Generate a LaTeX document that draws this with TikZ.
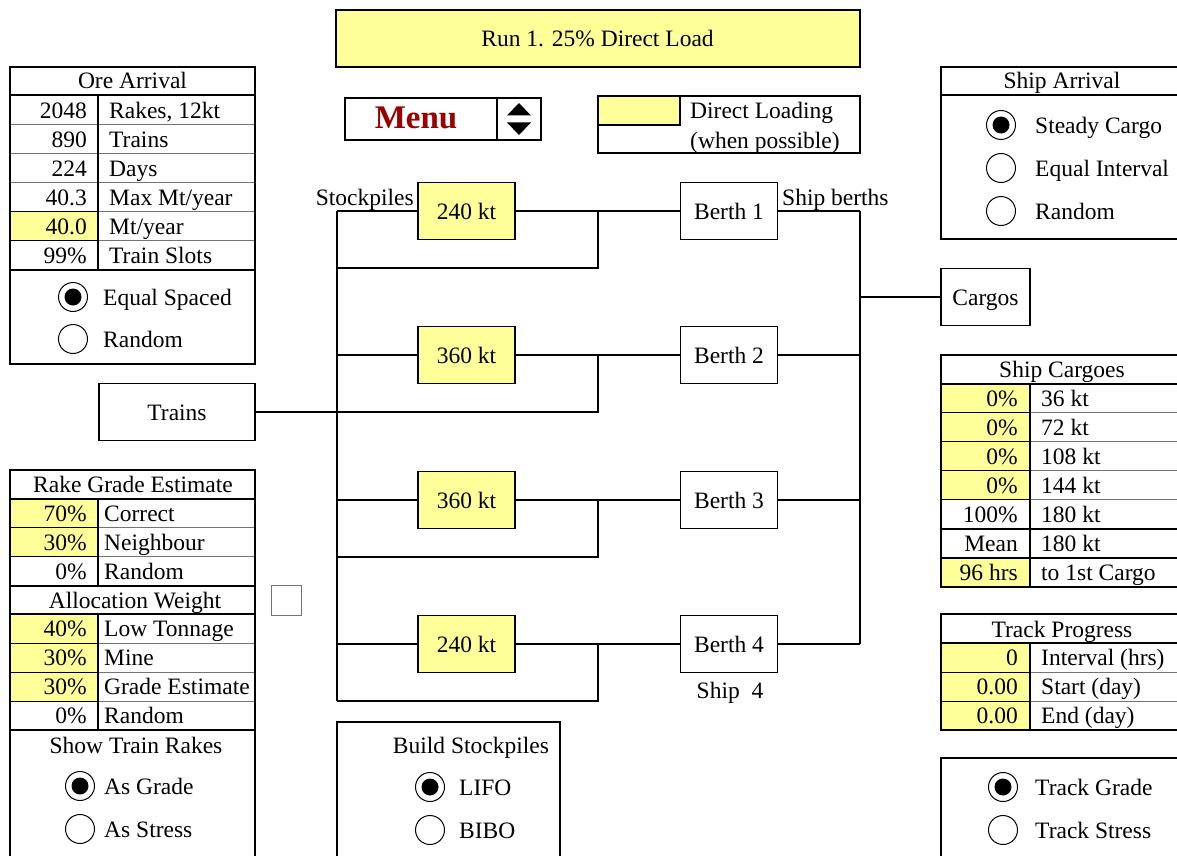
\documentclass[tikz,border=0pt]{standalone}
\usepackage{fontspec}
\setmainfont{Liberation Serif}
\usetikzlibrary{positioning}
\definecolor{inyellow}{HTML}{FFFF99}
\definecolor{menured}{HTML}{990000}

\begin{document}
\begin{tikzpicture}[x=1pt,y=-1pt,font=\fontsize{23.5}{28}\selectfont,
  wire/.style={line width=1.8pt},
  frame/.style={line width=2pt},
  rule/.style={line width=0.8pt,black!55},
  yel/.style={fill=inyellow,draw=black,line width=0.8pt},
  plain/.style={},
  val/.style={anchor=base east,inner sep=0pt},
  txt/.style={anchor=base west,inner sep=0pt},
  head/.style={anchor=base,inner sep=0pt},
  unit/.style={draw,line width=1.8pt,fill=white,minimum width=97pt,minimum height=57pt,inner sep=0pt,text height=16pt,text depth=0pt},
  pile/.style={unit,fill=inyellow},
  radio/.style={draw,circle,line width=1pt,minimum size=29pt,inner sep=0pt},
  radioon/.style={radio,path picture={\fill (path picture bounding box.center) circle (8.5pt);}}]

\useasboundingbox (0,0) rectangle (1177,856);
\clip (0,0) rectangle (1177,856);

% title and menu
\node[draw,frame,fill=inyellow,minimum width=524pt,minimum height=57pt,text height=16pt,text depth=0pt] (title) at (597.5,38.5) {Run 1. 25\% Direct Load};
\node[draw,line width=1.5pt,minimum width=152pt,minimum height=42pt] (menu) at (421,119) {};
\node[text=menured,font=\fontsize{33}{33}\bfseries,inner sep=0pt] (menutxt) at (416,118) {Menu};
\node[draw,line width=1.5pt,minimum width=44pt,minimum height=42pt] (spin) at (519,119) {};
\fill ([xshift=-12pt,yshift=3.5pt]spin.center) -- ([xshift=12pt,yshift=3.5pt]spin.center) -- ([yshift=16pt]spin.center) -- cycle;
\fill ([xshift=-12pt,yshift=-3.5pt]spin.center) -- ([xshift=12pt,yshift=-3.5pt]spin.center) -- ([yshift=-16pt]spin.center) -- cycle;

\draw[line width=1.5pt] (598,96) rectangle (860,153);
\draw[line width=1.5pt,fill=inyellow] (598,96) rectangle (680,125);
\node[txt] (dltext) at (690,119) {Direct Loading};
\node[txt] (dlnote) at (690,148) {(when possible)};

% stockpiles and berths
\foreach \y/\kt [count=\i] in {211/240,355/360,500/360,644/240}{
  \coordinate (t\i) at (337,\y);
  \coordinate (j\i) at (598,\y);
  \coordinate (r\i) at (337,\y+57);
  \coordinate (q\i) at (860,\y);
  \draw[wire] (t\i) -- (q\i);
  \draw[wire] (j\i) |- (r\i);
  \node[pile] (s\i) at (466.5,\y) {\kt~kt};
  \node[unit] (b\i) at (729,\y) {Berth \i};
}
\draw[wire] (t1) -- (r4);
\draw[wire] (q1) -- (q4);
\node[val] (stocklbl) at (414,205) {Stockpiles};
\node[txt] (berthlbl) at (782,205) {Ship berths};
\node[head] (ship4) at (730,698) {Ship~~4};

\node[unit,minimum width=156pt] (trains) at (177,412) {Trains};
\draw[wire] (trains) -- (r2);
\coordinate (qc) at (860,297);
\node[unit,minimum width=89pt] (cargos) at (985.5,297) {Cargos};
\draw[wire] (qc) -- (cargos);

\node[draw,rule,minimum size=30pt] (chk) at (286,600) {};

% ore arrival
\foreach \y/\v/\t/\c [count=\i] in {110/2048/{Rakes, 12kt}/plain,139/890/Trains/plain,168/224/Days/plain,197/40.3/{Max Mt/year}/plain,226/40.0/{Mt/year}/yel,255/99\%/{Train Slots}/plain}{
  \draw[rule] (10,\y+14.5) -- (255,\y+14.5);
  \path[\c] (10,\y-14.5) rectangle (98,\y+14.5);
  \node[val] (oa-v\i) at (87,\y+8) {\v};
  \node[txt] (oa-t\i) at (109,\y+8) {\t};
}
\draw[frame] (10,67) rectangle (255,364);
\draw[frame] (10,95.5) -- (255,95.5);
\draw[frame] (10,269.5) -- (255,269.5);
\draw[frame] (98,95.5) -- (98,269.5);
\node[head] (oa-head) at (132.5,89) {Ore Arrival};
\node[radioon] (oa-r1) at (73,297) {};
\node[txt] (oa-l1) at (103,305) {Equal Spaced};
\node[radio] (oa-r2) at (73,339) {};
\node[txt] (oa-l2) at (103,347) {Random};

% rake grade and allocation
\foreach \y/\v/\t/\c [count=\i] in {513/70\%/Correct/yel,542/30\%/Neighbour/yel,571/0\%/Random/plain,628.5/40\%/{Low Tonnage}/yel,657.5/30\%/Mine/yel,686.5/30\%/{Grade Estimate}/yel,715.5/0\%/Random/plain}{
  \draw[rule] (10,\y+14.5) -- (255,\y+14.5);
  \path[\c] (10,\y-14.5) rectangle (98,\y+14.5);
  \node[val] (rg-v\i) at (87,\y+8) {\v};
  \node[txt] (rg-t\i) at (104,\y+8) {\t};
}
\draw[frame] (10,470) rectangle (255,870);
\draw[frame] (10,498.5) -- (255,498.5);
\draw[frame] (10,585.5) -- (255,585.5);
\draw[frame] (10,614) -- (255,614);
\draw[frame] (10,730) -- (255,730);
\draw[frame] (98,498.5) -- (98,585.5);
\draw[frame] (98,614) -- (98,730);
\node[head] (rg-head) at (133,492) {Rake Grade Estimate};
\node[head] (aw-head) at (135,608) {Allocation Weight};
\node[head] (sr-head) at (136,753) {Show Train Rakes};
\node[radioon] (sr-r1) at (80,786) {};
\node[txt] (sr-l1) at (104,794) {As Grade};
\node[radio] (sr-r2) at (80,829) {};
\node[txt] (sr-l2) at (104,837) {As Stress};

% build stockpiles
\draw[frame] (337,722) rectangle (560,870);
\node[head] (bs-head) at (471,753) {Build Stockpiles};
\node[radioon] (bs-r1) at (430,787) {};
\node[txt] (bs-l1) at (459,795) {LIFO};
\node[radio] (bs-r2) at (430,830) {};
\node[txt] (bs-l2) at (459,838) {BIBO};

% ship arrival
\draw[frame] (941,67) rectangle (1190,239);
\draw[frame] (941,95.5) -- (1190,95.5);
\node[head] (sa-head) at (1062,89) {Ship Arrival};
\foreach \y/\t [count=\i] in {125/{Steady Cargo},168/{Equal Interval},211/Random}{
  \node[radio] (sa-r\i) at (1001,\y) {};
  \node[txt] (sa-l\i) at (1035,\y+8) {\t};
}
\fill (sa-r1) circle (8.5pt);

% ship cargoes
\foreach \y/\v/\t/\c [count=\i] in {398/0\%/36~kt/yel,427/0\%/72~kt/yel,456/0\%/108~kt/yel,485/0\%/144~kt/yel,514/100\%/180~kt/plain,543/Mean/180~kt/plain,572/96~hrs/{to 1st Cargo}/yel}{
  \draw[rule] (941,\y+14.5) -- (1190,\y+14.5);
  \path[\c] (941,\y-14.5) rectangle (1030,\y+14.5);
  \node[val] (sc-v\i) at (1018,\y+8) {\v};
  \node[txt] (sc-t\i) at (1041,\y+8) {\t};
}
\draw[frame] (941,355) rectangle (1190,586.5);
\draw[frame] (941,383.5) -- (1190,383.5);
\draw[frame] (941,528.5) -- (1190,528.5);
\draw[frame] (941,557.5) -- (1190,557.5);
\draw[frame] (1030,383.5) -- (1030,586.5);
\node[head] (sc-head) at (1062,377) {Ship Cargoes};

% track progress
\foreach \y/\v/\t [count=\i] in {657.5/0/{Interval (hrs)},686.5/0.00/{Start (day)},715.5/0.00/{End (day)}}{
  \draw[rule] (941,\y+14.5) -- (1190,\y+14.5);
  \path[yel] (941,\y-14.5) rectangle (1030,\y+14.5);
  \node[val] (tp-v\i) at (1018,\y+8) {\v};
  \node[txt] (tp-t\i) at (1041,\y+8) {\t};
}
\draw[frame] (941,614) rectangle (1190,730);
\draw[frame] (941,643) -- (1190,643);
\draw[frame] (1030,643) -- (1030,730);
\node[head] (tp-head) at (1062,637) {Track Progress};

% track display
\draw[frame] (941,758) rectangle (1190,870);
\node[radioon] (td-r1) at (1003,787) {};
\node[txt] (td-l1) at (1035,795) {Track Grade};
\node[radio] (td-r2) at (1003,830) {};
\node[txt] (td-l2) at (1035,838) {Track Stress};
\end{tikzpicture}
\end{document}
